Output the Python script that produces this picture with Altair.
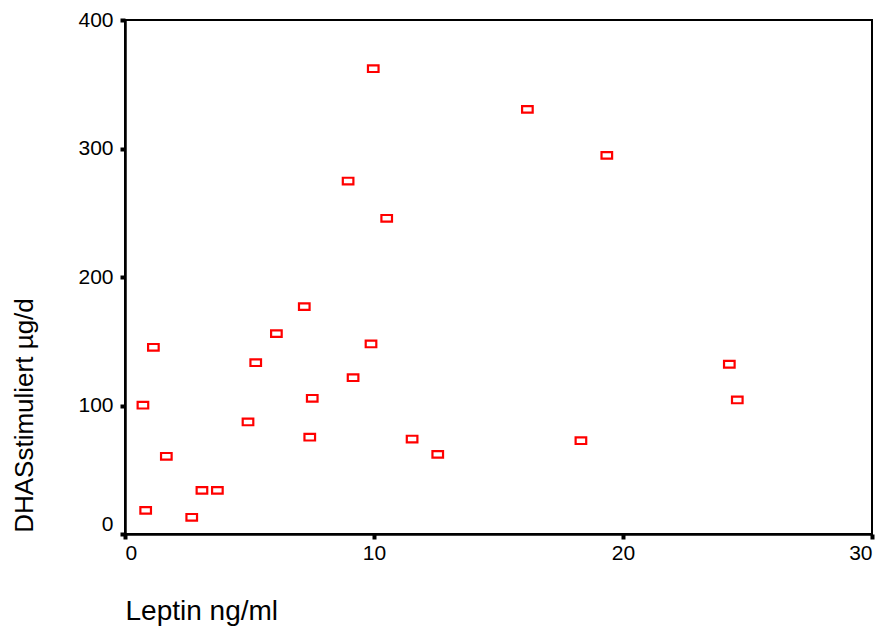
import altair as alt
import pandas as pd

leptin = [9.97, 16.16, 19.35, 8.96, 10.51, 7.20, 6.08, 1.14, 9.88, 5.25,
          24.27, 9.16, 0.72, 7.52, 24.59, 4.94, 7.42, 11.53, 18.31, 12.56,
          1.66, 3.09, 3.71, 0.83, 2.68]
dhas = [362.1, 330.5, 294.7, 274.7, 245.7, 176.9, 155.9, 145.3, 147.9, 133.3,
        132.1, 121.6, 100.2, 105.6, 104.3, 87.2, 75.3, 73.9, 72.6, 62.0,
        60.5, 34.0, 34.0, 18.4, 13.0]
x_ticks = [0, 10, 20, 30]
y_ticks = [0, 100, 200, 300, 400]

df = pd.DataFrame({"leptin": leptin, "dhas": dhas})

FONT = "Liberation Sans"

chart = alt.Chart(df).mark_point(
    shape="M-1,-0.62L1,-0.62L1,0.62L-1,0.62Z",
    size=112,
    filled=False,
    stroke="#FF0000",
    strokeWidth=2.2,
    opacity=1,
).encode(
    x=alt.X("leptin:Q",
            scale=alt.Scale(domain=[0, 30], nice=False, zero=False),
            axis=alt.Axis(values=x_ticks, title="Leptin ng/ml", grid=False,
                          domainColor="black", domainWidth=2.5,
                          tickColor="black", tickSize=5, tickWidth=4,
                          labelFont=FONT, labelFontSize=21, labelColor="black",
                          labelPadding=3,
                          titleFont=FONT, titleFontSize=28, titleFontWeight="normal",
                          titleColor="black", titleAnchor="start", titleAlign="left",
                          titleX=0, titleY=85, titleBaseline="alphabetic")),
    y=alt.Y("dhas:Q",
            scale=alt.Scale(domain=[0, 400], nice=False, zero=False),
            axis=alt.Axis(values=y_ticks, title="DHASstimuliert µg/d", grid=False,
                          domainColor="black", domainWidth=2.5,
                          tickColor="black", tickSize=5, tickWidth=4,
                          labelFont=FONT, labelFontSize=21, labelColor="black",
                          labelPadding=7,
                          labelBaseline=alt.condition("datum.value == 0",
                                                      alt.value("bottom"),
                                                      alt.value("middle")),
                          titleFont=FONT, titleFontSize=26, titleFontWeight="normal",
                          titleColor="black", titleAngle=270,
                          titleAlign="center", titleBaseline="middle",
                          titleX=-101, titleY=395)),
).properties(
    width=747,
    height=514,
    autosize=alt.AutoSizeParams(type="none"),
    padding={"left": 125, "top": 20, "right": 15, "bottom": 92},
    background="white",
).configure_view(
    stroke="black",
    strokeWidth=2,
)

chart.save("out.html", embed_options={"renderer": "svg", "actions": False})
